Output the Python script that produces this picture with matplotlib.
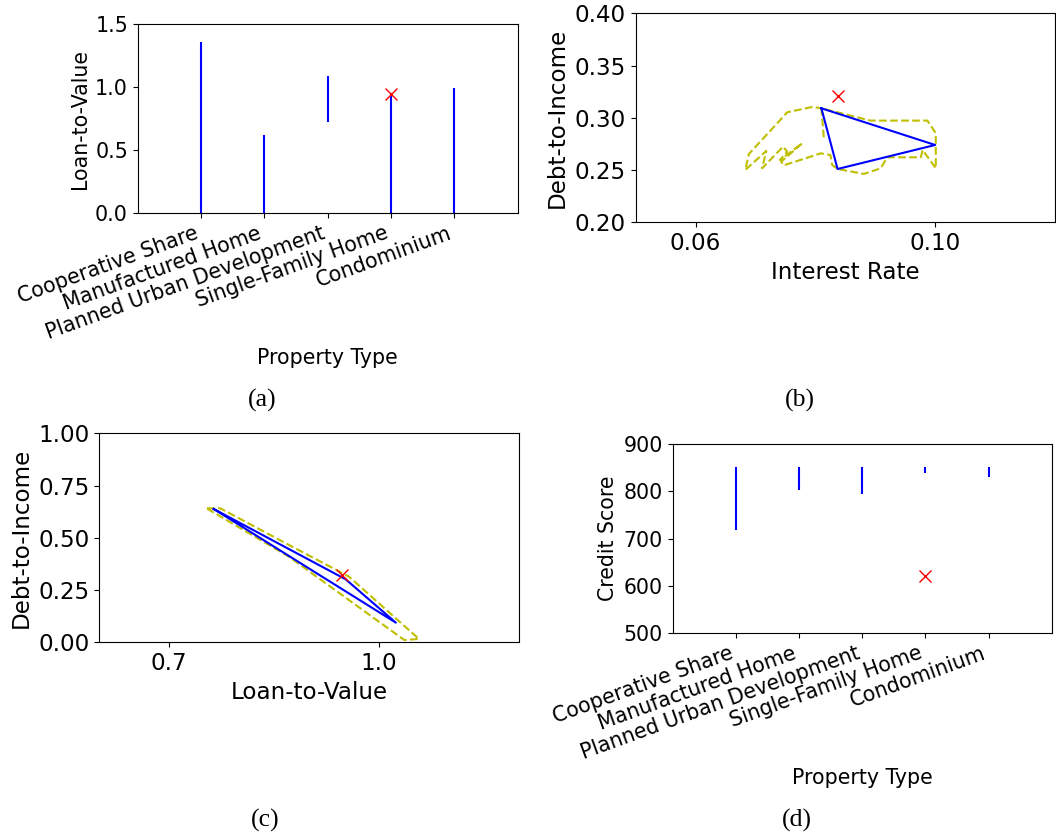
import matplotlib
matplotlib.use("Agg")
import matplotlib.pyplot as plt

# ---- data ----
property_types = ["Cooperative Share", "Manufactured Home", "Planned Urban Development",
                  "Single-Family Home", "Condominium"]

ltv_low = [0.0, 0.0, 0.72, 0.0, 0.0]
ltv_high = [1.357, 0.619, 1.087, 0.947, 0.989]

score_low = [718, 802, 795, 839, 830]
score_high = [851, 851, 851, 852, 851]

# highlighted loan
query_type = 3
query_ltv = 0.947
query_dti = 0.321
query_rate = 0.0838
query_score = 622

# interest rate vs DTI region
rate_tri = [0.0810, 0.0837, 0.1000, 0.0810]
dti_tri = [0.3091, 0.2510, 0.2740, 0.3091]

rate_hull = [0.0814, 0.0810, 0.0892, 0.0987, 0.1001, 0.1001, 0.0979, 0.0976, 0.0920, 0.0909,
             0.0881, 0.0837, 0.0828, 0.0825, 0.0809, 0.0747, 0.0743, 0.0778, 0.0741, 0.0753,
             0.0746, 0.0711, 0.0718, 0.0683, 0.0689, 0.0731, 0.0753, 0.0795, 0.0810]
dti_hull = [0.2813, 0.3091, 0.2973, 0.2973, 0.2852, 0.2517, 0.2692, 0.2622, 0.2622, 0.2517,
            0.2463, 0.2510, 0.2549, 0.2644, 0.2660, 0.2545, 0.2581, 0.2756, 0.2596, 0.2676,
            0.2724, 0.2517, 0.2683, 0.2501, 0.2654, 0.2915, 0.3053, 0.3104, 0.3091]

# LTV vs DTI region
ltv_tri = [0.7635, 0.9522, 1.0239, 0.7635]
dti_tri2 = [0.638, 0.3014, 0.094, 0.638]

ltv_hull = [0.754, 0.773, 0.871, 0.957, 1.057, 1.036, 0.995, 0.871, 0.759, 0.754]
dti_hull2 = [0.641, 0.641, 0.466, 0.314, 0.016, 0.011, 0.110, 0.410, 0.630, 0.641]

W, H = 1056, 832
fig = plt.figure(figsize=(W / 100, H / 100), dpi=100)


def box(l, t, r, b):
    return [l / W, 1 - b / H, (r - l) / W, (b - t) / H]


small = 14.8
big = 16.6
caption_font = dict(family="Liberation Serif", fontsize=18.5)

# (a) LTV range by property type
ax = fig.add_axes(box(137.7, 24, 517.7, 213.3))
xs = range(len(property_types))
ax.vlines(xs, ltv_low, ltv_high, colors="b", lw=1.5)
ax.plot([query_type], [query_ltv], "rx", ms=8)
ax.set_xlim(-1, 5)
ax.set_ylim(0, 1.5)
ax.set_yticks([0.0, 0.5, 1.0, 1.5])
ax.set_xticks(list(xs))
ax.set_xticklabels(property_types, rotation=20, ha="right", fontsize=small)
ax.tick_params(axis="y", labelsize=small)
ax.set_ylabel("Loan-to-Value", fontsize=small)
ax.set_xlabel("Property Type", fontsize=small, labelpad=4)

# (b) interest rate vs DTI
ax = fig.add_axes(box(635.7, 13.3, 1055, 222.3))
ax.plot(rate_hull, dti_hull, "y--", lw=1.5)
ax.plot(rate_tri, dti_tri, "b-", lw=1.5)
ax.plot([query_rate], [query_dti], "rx", ms=8)
ax.set_xlim(0.05, 0.12)
ax.set_ylim(0.20, 0.40)
ax.set_xticks([0.06, 0.10])
ax.set_xticklabels(["0.06", "0.10"])
ax.set_yticks([0.20, 0.25, 0.30, 0.35, 0.40])
ax.set_yticklabels(["0.20", "0.25", "0.30", "0.35", "0.40"])
ax.tick_params(labelsize=big)
ax.set_xlabel("Interest Rate", fontsize=big)
ax.set_ylabel("Debt-to-Income", fontsize=big)

# (c) LTV vs DTI
ax = fig.add_axes(box(99.3, 433.3, 519, 642.3))
ax.plot(ltv_hull, dti_hull2, "y--", lw=1.5)
ax.plot(ltv_tri, dti_tri2, "b-", lw=1.5)
ax.plot([query_ltv], [query_dti], "rx", ms=8)
ax.set_xlim(0.6, 1.2)
ax.set_ylim(0, 1.0)
ax.set_xticks([0.7, 1.0])
ax.set_xticklabels(["0.7", "1.0"])
ax.set_yticks([0.0, 0.25, 0.5, 0.75, 1.0])
ax.set_yticklabels(["0.00", "0.25", "0.50", "0.75", "1.00"])
ax.tick_params(labelsize=big)
ax.set_xlabel("Loan-to-Value", fontsize=big)
ax.set_ylabel("Debt-to-Income", fontsize=big)

# (d) credit score range by property type
ax = fig.add_axes(box(672.7, 444, 1051.7, 633.3))
ax.vlines(xs, score_low, score_high, colors="b", lw=1.5)
ax.plot([query_type], [query_score], "rx", ms=8)
ax.set_xlim(-1, 5)
ax.set_ylim(500, 900)
ax.set_yticks([500, 600, 700, 800, 900])
ax.set_xticks(list(xs))
ax.set_xticklabels(property_types, rotation=20, ha="right", fontsize=small)
ax.tick_params(axis="y", labelsize=small)
ax.set_ylabel("Credit Score", fontsize=small)
ax.set_xlabel("Property Type", fontsize=small, labelpad=4)

# sub-figure captions
for label, (cx, cy) in zip(["(a)", "(b)", "(c)", "(d)"],
                           [(262, 400), (800, 400), (265, 820), (797, 820)]):
    fig.text(cx / W, 1 - cy / H, label, ha="center", va="center", **caption_font)

fig.savefig("out.png", dpi=100)
